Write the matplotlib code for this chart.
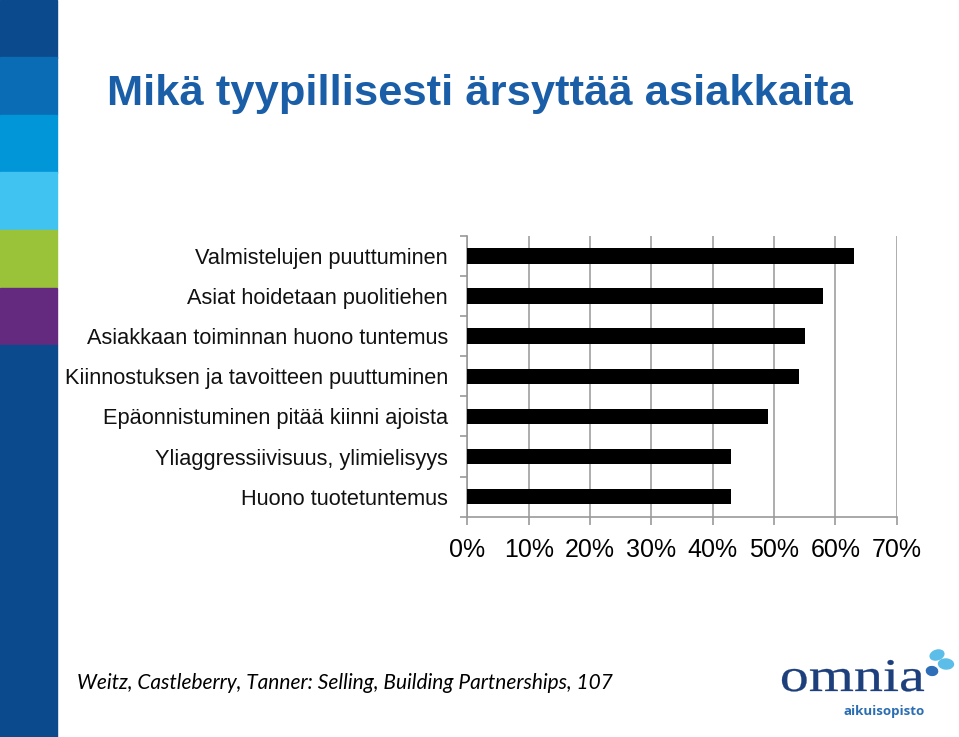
import numpy as np
import matplotlib.pyplot as plt
from matplotlib.patches import Rectangle, Ellipse, PathPatch
from matplotlib.textpath import TextPath
from matplotlib.font_manager import FontProperties
from matplotlib.transforms import Affine2D

categories = ['Valmistelujen puuttuminen', 'Asiat hoidetaan puolitiehen',
              'Asiakkaan toiminnan huono tuntemus', 'Kiinnostuksen ja tavoitteen puuttuminen',
              'Epäonnistuminen pitää kiinni ajoista', 'Yliaggressiivisuus, ylimielisyys',
              'Huono tuotetuntemus']
values = [63, 58, 55, 54, 49, 43, 43]
xticks = [0, 10, 20, 30, 40, 50, 60, 70]
xticklabels = ['0%', '10%', '20%', '30%', '40%', '50%', '60%', '70%']
stripe_colors = ['#0b4a8c', '#0a6cb4', '#0096d8', '#40c3f0', '#9bc33a', '#642a80']

W, H = 959, 737
fig = plt.figure(figsize=(W/100, H/100), dpi=100)
plt.rcParams['font.family'] = ['Liberation Sans', 'DejaVu Sans']

# left colour stripes
for i, c in enumerate(stripe_colors):
    fig.patches.append(Rectangle((0, 1 - (i+1)*57.5/H), 57/W, 57.5/H,
                                 transform=fig.transFigure, color=c, zorder=0))
fig.patches.append(Rectangle((0, 0), 57/W, 1 - 6*57.5/H,
                             transform=fig.transFigure, color='#0b4b8d', zorder=0))

fig.text(107/W, 1 - 94/H, 'Mikä tyypillisesti ärsyttää asiakkaita', fontsize=31.3,
         fontweight='bold', color='#1b5ea8', va='center', ha='left')

ax = fig.add_axes([467.3/W, 1 - 516.7/H, (896.7-467.3)/W, (516.7-236)/H])
y = np.arange(len(categories))
ax.barh(y, values, height=0.39, color='black', zorder=3)
ax.set_ylim(len(categories) - 0.5, -0.5)
ax.set_xlim(0, 70)
ax.set_xticks(xticks)
ax.set_xticklabels(xticklabels, fontsize=18)
ax.set_yticks(y)
ax.set_yticklabels(categories, fontsize=15.7, color='#111111')
ax.set_yticks(np.arange(len(categories) + 1) - 0.5, minor=True)
ax.tick_params(axis='y', which='major', length=0, pad=14)
ax.tick_params(axis='y', which='minor', length=5, color='#999999', width=1.2)
ax.tick_params(axis='x', length=6, color='#999999', width=1.2, pad=9)
ax.grid(axis='x', color='#a0a0a0', linewidth=1.2, zorder=0)
for s in ['top', 'right']:
    ax.spines[s].set_visible(False)
for s in ['left', 'bottom']:
    ax.spines[s].set_color('#999999')
    ax.spines[s].set_linewidth(1.2)

fig.text(77/W, 1 - 683/H, 'Weitz, Castleberry, Tanner: Selling, Building Partnerships, 107',
         fontsize=15, style='italic', family=['Lato', 'DejaVu Sans'], va='center', ha='left')

# logo: stretched serif "omnia"
tp = TextPath((0, 0), 'omnia', size=1, prop=FontProperties(family='Liberation Serif'))
ext = tp.get_extents()
x0, x1, yb, yt = 782, 924, 691, 660
tr = Affine2D().translate(-ext.x0, 0).scale((x1 - x0) / ext.width, (yb - yt) / ext.y1) \
    .translate(x0, H - yb).scale(1 / W, 1 / H)
fig.patches.append(PathPatch(tr.transform_path(tp), transform=fig.transFigure,
                             facecolor='#1d3f7c', edgecolor='#1d3f7c', lw=0.2))
fig.text(843/W, 1 - 711/H, 'aikuisopisto', fontsize=9.6, fontweight='bold',
         family=['Open Sans', 'DejaVu Sans'], color='#2a6db3', va='center', ha='left')
fig.patches.append(Ellipse((937/W, 1 - 655/H), 15/W, 9/H, angle=40,
                           transform=fig.transFigure, color='#5bbde8'))
fig.patches.append(Ellipse((946/W, 1 - 664/H), 15/W, 10/H, angle=-10,
                           transform=fig.transFigure, color='#5bbde8'))
fig.patches.append(Ellipse((932/W, 1 - 671/H), 11/W, 9/H, angle=30,
                           transform=fig.transFigure, color='#2f6fb7'))

fig.savefig('out.png', dpi=100)
